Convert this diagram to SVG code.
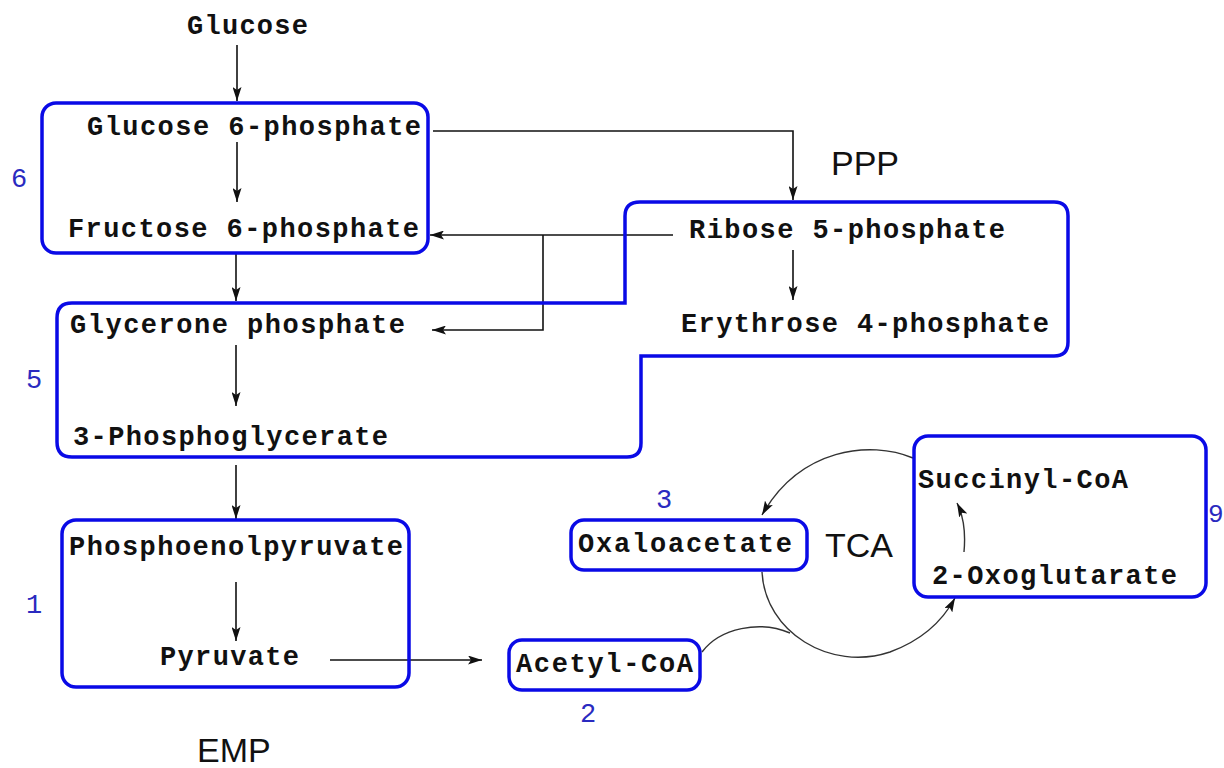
<svg xmlns="http://www.w3.org/2000/svg" width="1224" height="768" viewBox="0 0 1224 768">
<style>
.t{font-family:"Liberation Mono",monospace;font-weight:bold;font-size:27px;fill:#111}
.s{font-family:"Liberation Sans",Arial,sans-serif;font-size:34px;fill:#111}
.n{font-family:"Liberation Mono",monospace;font-size:27px;fill:#2a2ac0}
.box{fill:none;stroke:#0a0ae6;stroke-width:3.5}
.c{fill:none;stroke:#111;stroke-width:1.6}
.cc{fill:none;stroke:#333;stroke-width:1.4}
</style>
<defs>
<marker id="ah" markerUnits="userSpaceOnUse" markerWidth="15" markerHeight="9" refX="14" refY="4.5" orient="auto">
<path d="M0,0 L14,4.5 L0,9 L3,4.5 Z" fill="#111"/>
</marker>
</defs>
<rect width="1224" height="768" fill="#fff"/>

<g id="connectors">
<line class="c" x1="237" y1="45" x2="237" y2="101" marker-end="url(#ah)"/>
<line class="c" x1="237" y1="142" x2="237" y2="202" marker-end="url(#ah)"/>
<polyline class="c" points="433,131 793,131 793,200" marker-end="url(#ah)"/>
<line class="c" x1="236" y1="253" x2="236" y2="301" marker-end="url(#ah)"/>
<line class="c" x1="673" y1="235" x2="430" y2="235" marker-end="url(#ah)"/>
<polyline class="c" points="543,235 543,330 432,330" marker-end="url(#ah)"/>
<line class="c" x1="793" y1="250" x2="793" y2="300" marker-end="url(#ah)"/>
<line class="c" x1="236" y1="345" x2="236" y2="406" marker-end="url(#ah)"/>
<line class="c" x1="236" y1="465" x2="236" y2="519" marker-end="url(#ah)"/>
<line class="c" x1="236" y1="582" x2="236" y2="641" marker-end="url(#ah)"/>
<line class="c" x1="330" y1="660" x2="482" y2="660" marker-end="url(#ah)"/>
<path class="cc" d="M 913 458 C 870 440, 800 448, 762 515" marker-end="url(#ah)"/>
<path class="cc" d="M 762 572 C 765 632, 830 672, 890 652 C 920 641, 942 622, 955 598" marker-end="url(#ah)"/>
<path class="cc" d="M 702 652 C 720 628, 760 620, 790 633"/>
<path class="cc" d="M 964 552 C 966 530, 963 515, 957 503" marker-end="url(#ah)"/>
</g>

<g id="box6">
<rect class="box" x="42" y="103" width="386" height="150" rx="14"/>
<text class="n" x="11" y="187">6</text>
</g>
<g id="box5-ppp">
<path class="box" d="M 57 318 Q 57 303 72 303 L 625 303 L 625 216 Q 625 202 640 202 L 1054 202 Q 1068 202 1068 216 L 1068 342 Q 1068 356 1054 356 L 641 356 L 641 443 Q 641 457 627 457 L 72 457 Q 57 457 57 442 Z"/>
<text class="n" x="26" y="388">5</text>
</g>
<g id="box1">
<rect class="box" x="62" y="520" width="347" height="167" rx="14"/>
<text class="n" x="26" y="613">1</text>
</g>
<g id="acetyl-box">
<rect class="box" x="509" y="640" width="191" height="50" rx="13"/>
<text class="n" x="580" y="722">2</text>
</g>
<g id="oxalo-box">
<rect class="box" x="571" y="520" width="236" height="50" rx="13"/>
<text class="n" x="656" y="508">3</text>
</g>
<g id="box9">
<rect class="box" x="914" y="436" width="292" height="161" rx="14"/>
<text class="n" x="1208" y="522" style="font-size:26px">9</text>
</g>

<g id="n-glucose"><text class="t" x="187" y="34" textLength="121" lengthAdjust="spacing">Glucose</text></g>
<g id="n-g6p"><text class="t" x="87" y="135" textLength="334" lengthAdjust="spacing">Glucose 6-phosphate</text></g>
<g id="n-f6p"><text class="t" x="68" y="237" textLength="351" lengthAdjust="spacing">Fructose 6-phosphate</text></g>
<g id="n-r5p"><text class="t" x="689" y="238" textLength="316" lengthAdjust="spacing">Ribose 5-phosphate</text></g>
<g id="n-e4p"><text class="t" x="681" y="332" textLength="368" lengthAdjust="spacing">Erythrose 4-phosphate</text></g>
<g id="n-dhap"><text class="t" x="70" y="333" textLength="335" lengthAdjust="spacing">Glycerone phosphate</text></g>
<g id="n-3pg"><text class="t" x="73" y="445" textLength="315" lengthAdjust="spacing">3-Phosphoglycerate</text></g>
<g id="n-pep"><text class="t" x="69" y="555" textLength="334" lengthAdjust="spacing">Phosphoenolpyruvate</text></g>
<g id="n-pyr"><text class="t" x="160" y="665" textLength="139" lengthAdjust="spacing">Pyruvate</text></g>
<g id="n-acetyl"><text class="t" x="516" y="672" textLength="177" lengthAdjust="spacing">Acetyl-CoA</text></g>
<g id="n-oaa"><text class="t" x="578" y="552" textLength="214" lengthAdjust="spacing">Oxaloacetate</text></g>
<g id="n-succ"><text class="t" x="918" y="488" textLength="210" lengthAdjust="spacing">Succinyl-CoA</text></g>
<g id="n-akg"><text class="t" x="932" y="584" textLength="245" lengthAdjust="spacing">2-Oxoglutarate</text></g>

<g id="labels">
<text class="s" x="831" y="175">PPP</text>
<text class="s" x="825" y="557">TCA</text>
<text class="s" x="197" y="762">EMP</text>
</g>
</svg>
